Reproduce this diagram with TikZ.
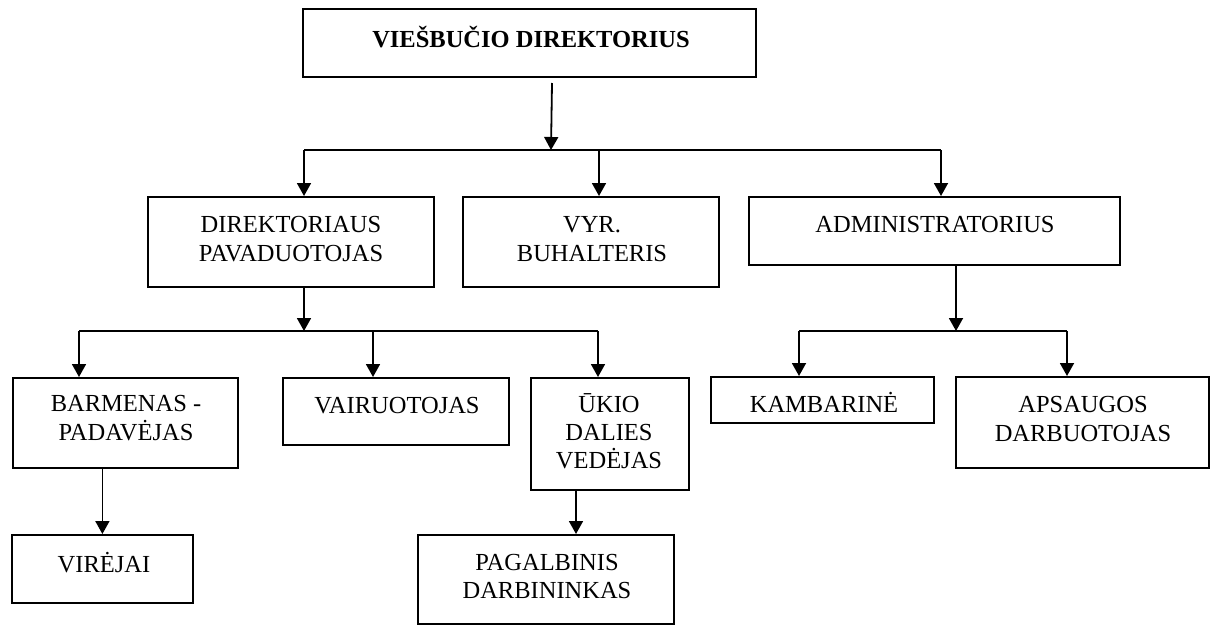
\documentclass[tikz,border=0pt]{standalone}
\usepackage{fontspec}
\setmainfont{Liberation Serif}
\usetikzlibrary{arrows.meta}
\begin{document}
\begin{tikzpicture}[x=1pt,y=-1pt,
  box/.style={draw, line width=1.8pt, inner sep=0pt, anchor=north west},
  lbl/.style={anchor=base, align=center, inner sep=0pt,
              font=\fontsize{24.5}{29}\selectfont},
  link/.style={line width=1.8pt},
  arr/.style={link, -{Triangle[length=13pt,width=14pt]}}]
\useasboundingbox (0,0) rectangle (1220,624);

% boxes of the organisation chart
\node[box, minimum width=453pt, minimum height=68pt] (top)  at (302,8)   {};
\node[box, minimum width=286pt, minimum height=90pt] (dep)  at (147,196) {};
\node[box, minimum width=256pt, minimum height=90pt] (vyr)  at (462,196) {};
\node[box, minimum width=371pt, minimum height=68pt] (adm)  at (748,196) {};
\node[box, minimum width=225pt, minimum height=90pt] (bar)  at (12,377)  {};
\node[box, minimum width=226pt, minimum height=67pt] (vai)  at (282,377) {};
\node[box, minimum width=158pt, minimum height=112pt] (ukio) at (530,377) {};
\node[box, minimum width=181pt, minimum height=68pt] (vir)  at (11,534)  {};
\node[box, minimum width=256pt, minimum height=89pt] (pag)  at (417,534) {};
\node[box, minimum width=223pt, minimum height=46pt] (kam)  at (710,376) {};
\node[box, minimum width=253pt, minimum height=91pt] (aps)  at (955,376) {};

% titles (anchored at the baseline of their last line)
\node[lbl, font=\fontsize{24.5}{29}\selectfont\bfseries] (ttop) at (531,47) {VIEŠBUČIO DIREKTORIUS};
\node[lbl] (tdep)  at (291,261) {DIREKTORIAUS\\PAVADUOTOJAS};
\node[lbl] (tvyr)  at (592,261) {VYR.\\BUHALTERIS};
\node[lbl] (tadm)  at (935,232) {ADMINISTRATORIUS};
\node[lbl] (tbar)  at (126,440) {BARMENAS -\\PADAVĖJAS};
\node[lbl] (tvai)  at (397,413) {VAIRUOTOJAS};
\node[lbl, font=\fontsize{24.5}{28}\selectfont] (tukio) at (609,468) {ŪKIO\\DALIES\\VEDĖJAS};
\node[lbl] (tvir)  at (104,572) {VIRĖJAI};
\node[lbl, font=\fontsize{24.5}{28}\selectfont] (tpag)  at (547,598) {PAGALBINIS\\DARBININKAS};
\node[lbl] (tkam)  at (824,412) {KAMBARINĖ};
\node[lbl] (taps)  at (1083,441) {APSAUGOS\\DARBUOTOJAS};

% junction points on the buses
\coordinate (s0)  at (552,83);
\coordinate (b1)  at (551,150);
\coordinate (b1l) at (304,150);
\coordinate (b1m) at (599,150);
\coordinate (b1r) at (941,150);
\coordinate (b2)  at (304,331);
\coordinate (b2l) at (79,331);
\coordinate (b2m) at (373,331);
\coordinate (b2r) at (598,331);
\coordinate (b3)  at (956,331);
\coordinate (b3l) at (799,331);
\coordinate (b3r) at (1067,331);
\coordinate (u)   at (576,0);

% director level
\draw[arr] (s0) -- (b1);
\draw[link] (b1l) -- (b1r);
\draw[arr] (b1l) -- (b1l |- dep.north);
\draw[arr] (b1m) -- (b1m |- vyr.north);
\draw[arr] (b1r) -- (b1r |- adm.north);

% deputy branch
\draw[arr] (b2 |- dep.south) -- (b2);
\draw[link] (b2l) -- (b2r);
\draw[arr] (b2l) -- (b2l |- bar.north);
\draw[arr] (b2m) -- (b2m |- vai.north);
\draw[arr] (b2r) -- (b2r |- ukio.north);
\draw[arr] (vir.north |- bar.south) -- (vir.north);
\draw[arr] (u |- ukio.south) -- (u |- pag.north);

% administrator branch
\draw[arr] (b3 |- adm.south) -- (b3);
\draw[link] (b3l) -- (b3r);
\draw[arr] (b3l) -- (b3l |- kam.north);
\draw[arr] (b3r) -- (b3r |- aps.north);
\end{tikzpicture}
\end{document}
